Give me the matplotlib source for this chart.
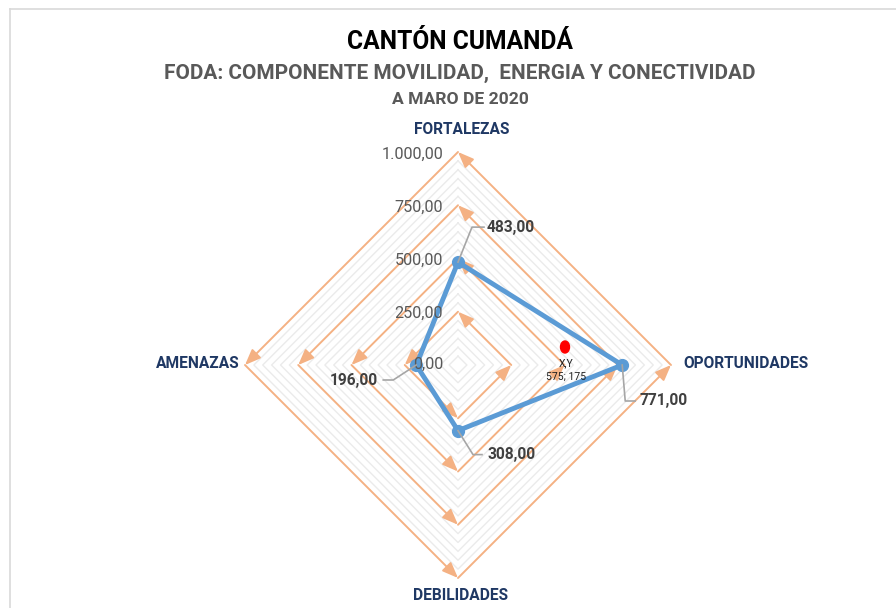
import numpy as np
import matplotlib
matplotlib.use('Agg')
import matplotlib.pyplot as plt
from matplotlib.lines import Line2D
from matplotlib.patches import Ellipse

# ---------------- data ----------------
categories = ['FORTALEZAS', 'OPORTUNIDADES', 'DEBILIDADES', 'AMENAZAS']
values = [483, 771, 308, 196]
value_labels = ['483,00', '771,00', '308,00', '196,00']
r_ticks = [0, 250, 500, 750, 1000]
r_tick_labels = ['0,00', '250,00', '500,00', '750,00', '1.000,00']
title = 'CANTÓN CUMANDÁ'
subtitle = 'FODA: COMPONENTE MOVILIDAD,  ENERGIA Y CONECTIVIDAD'
subsubtitle = 'A MARO DE 2020'

FONT = ['Roboto', 'DejaVu Sans']
W, H = 896, 608
fig = plt.figure(figsize=(W / 100, H / 100), dpi=100)
renderer = fig.canvas.get_renderer()

def fx(x):
    return x / W

def fy(y):
    return 1 - y / H

def fit(t, target):
    w = t.get_window_extent(renderer).width
    t.set_fontsize(t.get_fontsize() * target / w)
    return t.get_fontsize()

# border of chart area
fig.add_artist(Line2D([fx(10), fx(896)], [fy(9), fy(9)], color='#D9D9D9', lw=1.2, transform=fig.transFigure))
fig.add_artist(Line2D([fx(10), fx(10)], [fy(9), fy(608)], color='#D9D9D9', lw=1.2, transform=fig.transFigure))

cx, cy, R = 458, 365, 213
ax = fig.add_axes([(cx - R) / W, (H - cy - R) / H, 2 * R / W, 2 * R / H], projection='polar')
ax.set_theta_offset(np.pi / 2)
ax.set_theta_direction(-1)
ax.set_ylim(0, 1000)
ax.grid(False)
ax.set_xticks([])
ax.set_yticks([])
ax.spines['polar'].set_visible(False)
ax.patch.set_visible(False)

n = len(categories)
theta = np.arange(n) * 2 * np.pi / n
theta_c = np.append(theta, theta[0])

# minor gridlines
minor_step = 250 / 6
for r in np.arange(minor_step, 1000 + 1e-6, minor_step):
    if abs(r / 250 - round(r / 250)) < 1e-6:
        continue
    ax.plot(theta_c, [r] * (n + 1), color='#EBEBEB', lw=1.0, zorder=1)

# major gridlines with arrowheads (counter-clockwise segments)
order = [3, 2, 1, 0, 3]
for r in r_ticks[1:]:
    for a, b in zip(order[:-1], order[1:]):
        ax.annotate('', xy=(theta[b], r), xytext=(theta[a], r),
                    arrowprops=dict(arrowstyle='-|>,head_length=0.95,head_width=0.38',
                                    color='#F4B183', lw=1.4, shrinkA=0, shrinkB=0,
                                    mutation_scale=10),
                    zorder=2)

# data series
vals_c = values + values[:1]
ax.plot(theta_c, vals_c, color='#5B9BD5', lw=3.5, zorder=5, solid_joinstyle='round')
ax.plot(theta, values, 'o', color='#5B9BD5', ms=8.5, zorder=6)

fig.canvas.draw()

# radial tick labels
tick_texts = []
for r, lbl in zip(r_ticks, r_tick_labels):
    t = ax.annotate(lbl, xy=(0, r), xytext=(-15, -2 if r > 0 else 1), textcoords='offset pixels',
                    ha='right', va='center', color='#595959', fontsize=12, family=FONT, zorder=7)
    tick_texts.append(t)
fs = fit(tick_texts[-1], 62)
for t in tick_texts:
    t.set_fontsize(fs)

# category labels
cat_offsets = [(4, 22, 'center', 'center'), (12, 1, 'left', 'center'),
               (2, -17, 'center', 'center'), (-5, 2, 'right', 'center')]
cat_texts = []
for th, c, (dx, dy, ha, va) in zip(theta, categories, cat_offsets):
    t = ax.annotate(c, xy=(th, 1000), xytext=(dx, dy), textcoords='offset pixels',
                    ha=ha, va=va, color='#1F3864', fontsize=12, fontweight='bold',
                    family=FONT, annotation_clip=False)
    cat_texts.append(t)
fs = fit(cat_texts[1], 126)
for t in cat_texts:
    t.set_fontsize(fs)

# data labels with leader lines (offsets in pixels, y downwards)
leaders = [((14, -35), (26, -35), (29, -35), 'left'),
           ((3, 36), (13, 36), (17, 36), 'left'),
           ((15, 24), (24, 24), (29, 24), 'left'),
           ((-23, 15), (-33, 15), (-38, 15), 'right')]
lab_texts = []
for th, v, lbl, (e1, e2, lp, ha) in zip(theta, values, value_labels, leaders):
    px, py = ax.transData.transform((th, v))
    xs = [px, px + e1[0], px + e2[0]]
    ys = [py, py - e1[1], py - e2[1]]
    fig.add_artist(Line2D(xs, ys, color='#A6A6A6', lw=1.2, transform=None, zorder=4))
    t = fig.text((px + lp[0]) / W, (py - lp[1]) / H, lbl, ha=ha, va='center',
                 color='#404040', fontweight='bold', fontsize=12, family=FONT, zorder=8)
    lab_texts.append(t)
fs = fit(lab_texts[0], 48)
for t in lab_texts:
    t.set_fontsize(fs)

# titles
t1 = fig.text(fx(460), fy(42), title, ha='center', va='center', fontweight='bold',
              color='#000000', fontsize=16, family=FONT)
fit(t1, 226)
t2 = fig.text(fx(460), fy(73), subtitle, ha='center', va='center', fontweight='bold',
              color='#595959', fontsize=14, family=FONT)
fit(t2, 594)
t3 = fig.text(fx(460), fy(99), subsubtitle, ha='center', va='center', fontweight='bold',
              color='#595959', fontsize=11, family=FONT)
fit(t3, 136)

# stray Excel cursor artifact
fig.add_artist(Ellipse((fx(565), fy(347)), 9 / W, 12 / H, color='#FF0000', transform=fig.transFigure, zorder=9))
fig.text(fx(566), fy(363), 'X,Y', ha='center', va='center', fontsize=7.5, color='#202020', family=FONT)
fig.text(fx(566), fy(377), '575; 175', ha='center', va='center', fontsize=7.5, color='#202020', family=FONT)

fig.savefig('out.png', dpi=100, facecolor='white')
